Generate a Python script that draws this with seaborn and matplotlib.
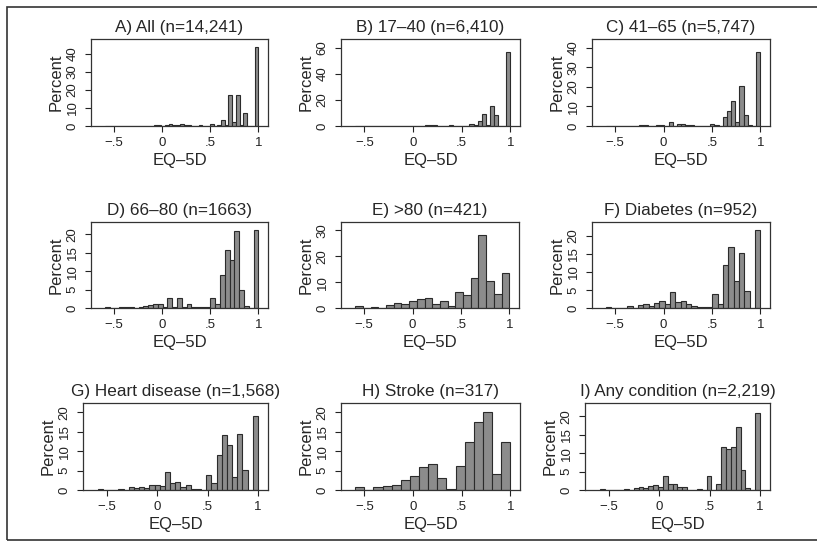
import matplotlib
matplotlib.use("Agg")
import matplotlib.pyplot as plt
import numpy as np
import pandas as pd
import seaborn as sns
from matplotlib.patches import Rectangle


sns.set_theme(style="ticks")
plt.rcParams["font.family"] = ["Liberation Sans", "DejaVu Sans"]

# EQ-5D range used for the bins, and number of bins per panel
EQ_MIN, EQ_MAX = -0.594, 1.0

titles = [
    "A) All (n=14,241)", "B) 17–40 (n=6,410)", "C) 41–65 (n=5,747)",
    "D) 66–80 (n=1663)", "E) >80 (n=421)", "F) Diabetes (n=952)",
    "G) Heart disease (n=1,568)", "H) Stroke (n=317)", "I) Any condition (n=2,219)",
]

# percent per bin
pct_all = [0] * 13 + [0.5, 0.5, 0, 0.3, 1.0, 0.3, 0.5, 1.0, 0.6, 0.5, 0, 0, 0.4, 0, 0,
                      1.0, 0.2, 0.6, 3.5, 0.5, 17, 2, 17, 0.5, 7, 0, 0, 43.5]
pct_17_40 = [0] * 17 + [0.8, 0.8, 0.5, 0, 0, 0, 0.7, 0, 0, 0, 0, 1.8, 0.5, 3.5, 9, 1,
                        15.2, 8.3, 0, 0, 57]
pct_41_65 = [0] * 8 + [0.5, 0.5, 0, 0, 0.6, 0.6, 0, 2.2, 0, 1.0, 1.0, 0.4, 0.4, 0, 0, 0,
                       0, 1.0, 0.3, 0, 4.4, 7.8, 12.9, 2.2, 20.4, 5.6, 0.5, 0, 38]
pct_66_80 = [0.3, 0, 0, 0.2, 0.2, 0.2, 0, 0.3, 0.5, 0.8, 1.1, 1.1, 0.3, 2.8, 0.3, 2.8,
             0.3, 1.2, 0.2, 0.2, 0.2, 0.2, 2.8, 1.1, 9.0, 15.8, 13.1, 20.9, 4.9, 0.5, 0, 21.2]
pct_80plus = [0.7, 0, 0.3, 0, 1.2, 2.0, 1.5, 2.8, 3.5, 4.0, 1.5, 2.8, 0.7, 6.2, 4.9,
              11.7, 28.1, 10.3, 5.3, 13.5]
pct_diabetes = [0.3, 0, 0, 0, 0.6, 0, 0.8, 1.2, 0.5, 1.5, 2.0, 1.2, 4.5, 1.8, 2.0, 1.2,
                0.6, 0.3, 0.3, 0.3, 4.0, 1.2, 11.9, 16.9, 7.6, 15.4, 4.7, 0, 21.6]
pct_heart = [0.3, 0, 0, 0, 0.3, 0, 0.9, 0.4, 0.9, 0.5, 1.4, 1.4, 1.0, 4.7, 1.7, 2.1,
             0.9, 1.2, 0.3, 0.3, 0, 3.9, 1.9, 8.9, 14.1, 11.5, 3.4, 14.5, 5.1, 0, 19.0]
pct_stroke = [0.9, 0, 0.7, 1.1, 1.4, 2.6, 3.7, 6.0, 6.6, 3.0, 0.3, 6.1, 12.3, 17.5,
              20.0, 4.2, 12.3]
pct_any = [0.3, 0, 0, 0, 0, 0.2, 0, 0.6, 0.8, 0.5, 1.1, 1.4, 0.9, 3.9, 1.7, 1.7, 0.9,
           0.9, 0, 0, 0.3, 0, 3.7, 0, 1.5, 11.7, 11.0, 11.7, 17.1, 5.3, 0.6, 0, 20.9]

series = [pct_all, pct_17_40, pct_41_65, pct_66_80, pct_80plus, pct_diabetes,
          pct_heart, pct_stroke, pct_any]

y_ticks = [[0, 10, 20, 30, 40], [0, 20, 40, 60], [0, 10, 20, 30, 40],
           [0, 5, 10, 15, 20], [0, 10, 20, 30], [0, 5, 10, 15, 20],
           [0, 5, 10, 15, 20], [0, 5, 10, 15, 20], [0, 5, 10, 15, 20]]
y_top = [48, 67, 44.5, 23.4, 33.2, 23.9, 22.4, 22.4, 23.6]
x_ticks = [-0.5, 0, 0.5, 1]
x_tick_labels = ["−.5", "0", ".5", "1"]

# panel boxes in pixels: left, top, right, bottom
W, H = 817, 542
boxes = [(91, 39, 268, 126), (341, 39, 520, 126), (592, 39, 770, 126),
         (91, 222, 268, 308), (341, 222, 519, 308), (592, 222, 770, 308),
         (83, 403, 268, 490), (341, 403, 520, 490), (585, 403, 770, 490)]

fig = plt.figure(figsize=(W / 100, H / 100), dpi=100)
fig.patch.set_facecolor("white")
fig.patches.append(Rectangle((7 / W, (H - 540) / H), 1.2, 533 / H, transform=fig.transFigure,
                             fill=False, edgecolor="#333333", linewidth=1.2))

for title, pct, yt, top, (l, t, r, b) in zip(titles, series, y_ticks, y_top, boxes):
    ax = fig.add_axes([l / W, (H - b) / H, (r - l) / W, (b - t) / H])
    edges = np.linspace(EQ_MIN, EQ_MAX, len(pct) + 1)
    df = pd.DataFrame({"eq5d": (edges[:-1] + edges[1:]) / 2, "pct": pct})
    sns.histplot(data=df, x="eq5d", weights="pct", bins=list(edges), ax=ax,
                 color="#8c8c8c", edgecolor="#2b2b2b", linewidth=0.8, alpha=1)
    ax.set_xlim(-0.74, 1.1)
    ax.set_ylim(0, top)
    ax.set_xticks(x_ticks)
    ax.set_xticklabels(x_tick_labels)
    ax.set_yticks(yt)
    ax.set_yticklabels([str(v) for v in yt], rotation=90, va="center")
    ax.tick_params(labelsize=9.5, length=4, width=0.8, colors="#222222")
    ax.tick_params(axis="x", pad=4)
    ax.tick_params(axis="y", pad=5)
    ax.set_xlabel("EQ–5D", fontsize=12, labelpad=3)
    ax.set_ylabel("Percent", fontsize=12, labelpad=2)
    ax.set_title(title, fontsize=12.3, pad=5)
    for s in ax.spines.values():
        s.set_visible(True)
        s.set_linewidth(0.9)
        s.set_color("#333333")
    ax.set_facecolor("white")

fig.savefig("out.png", dpi=100)
